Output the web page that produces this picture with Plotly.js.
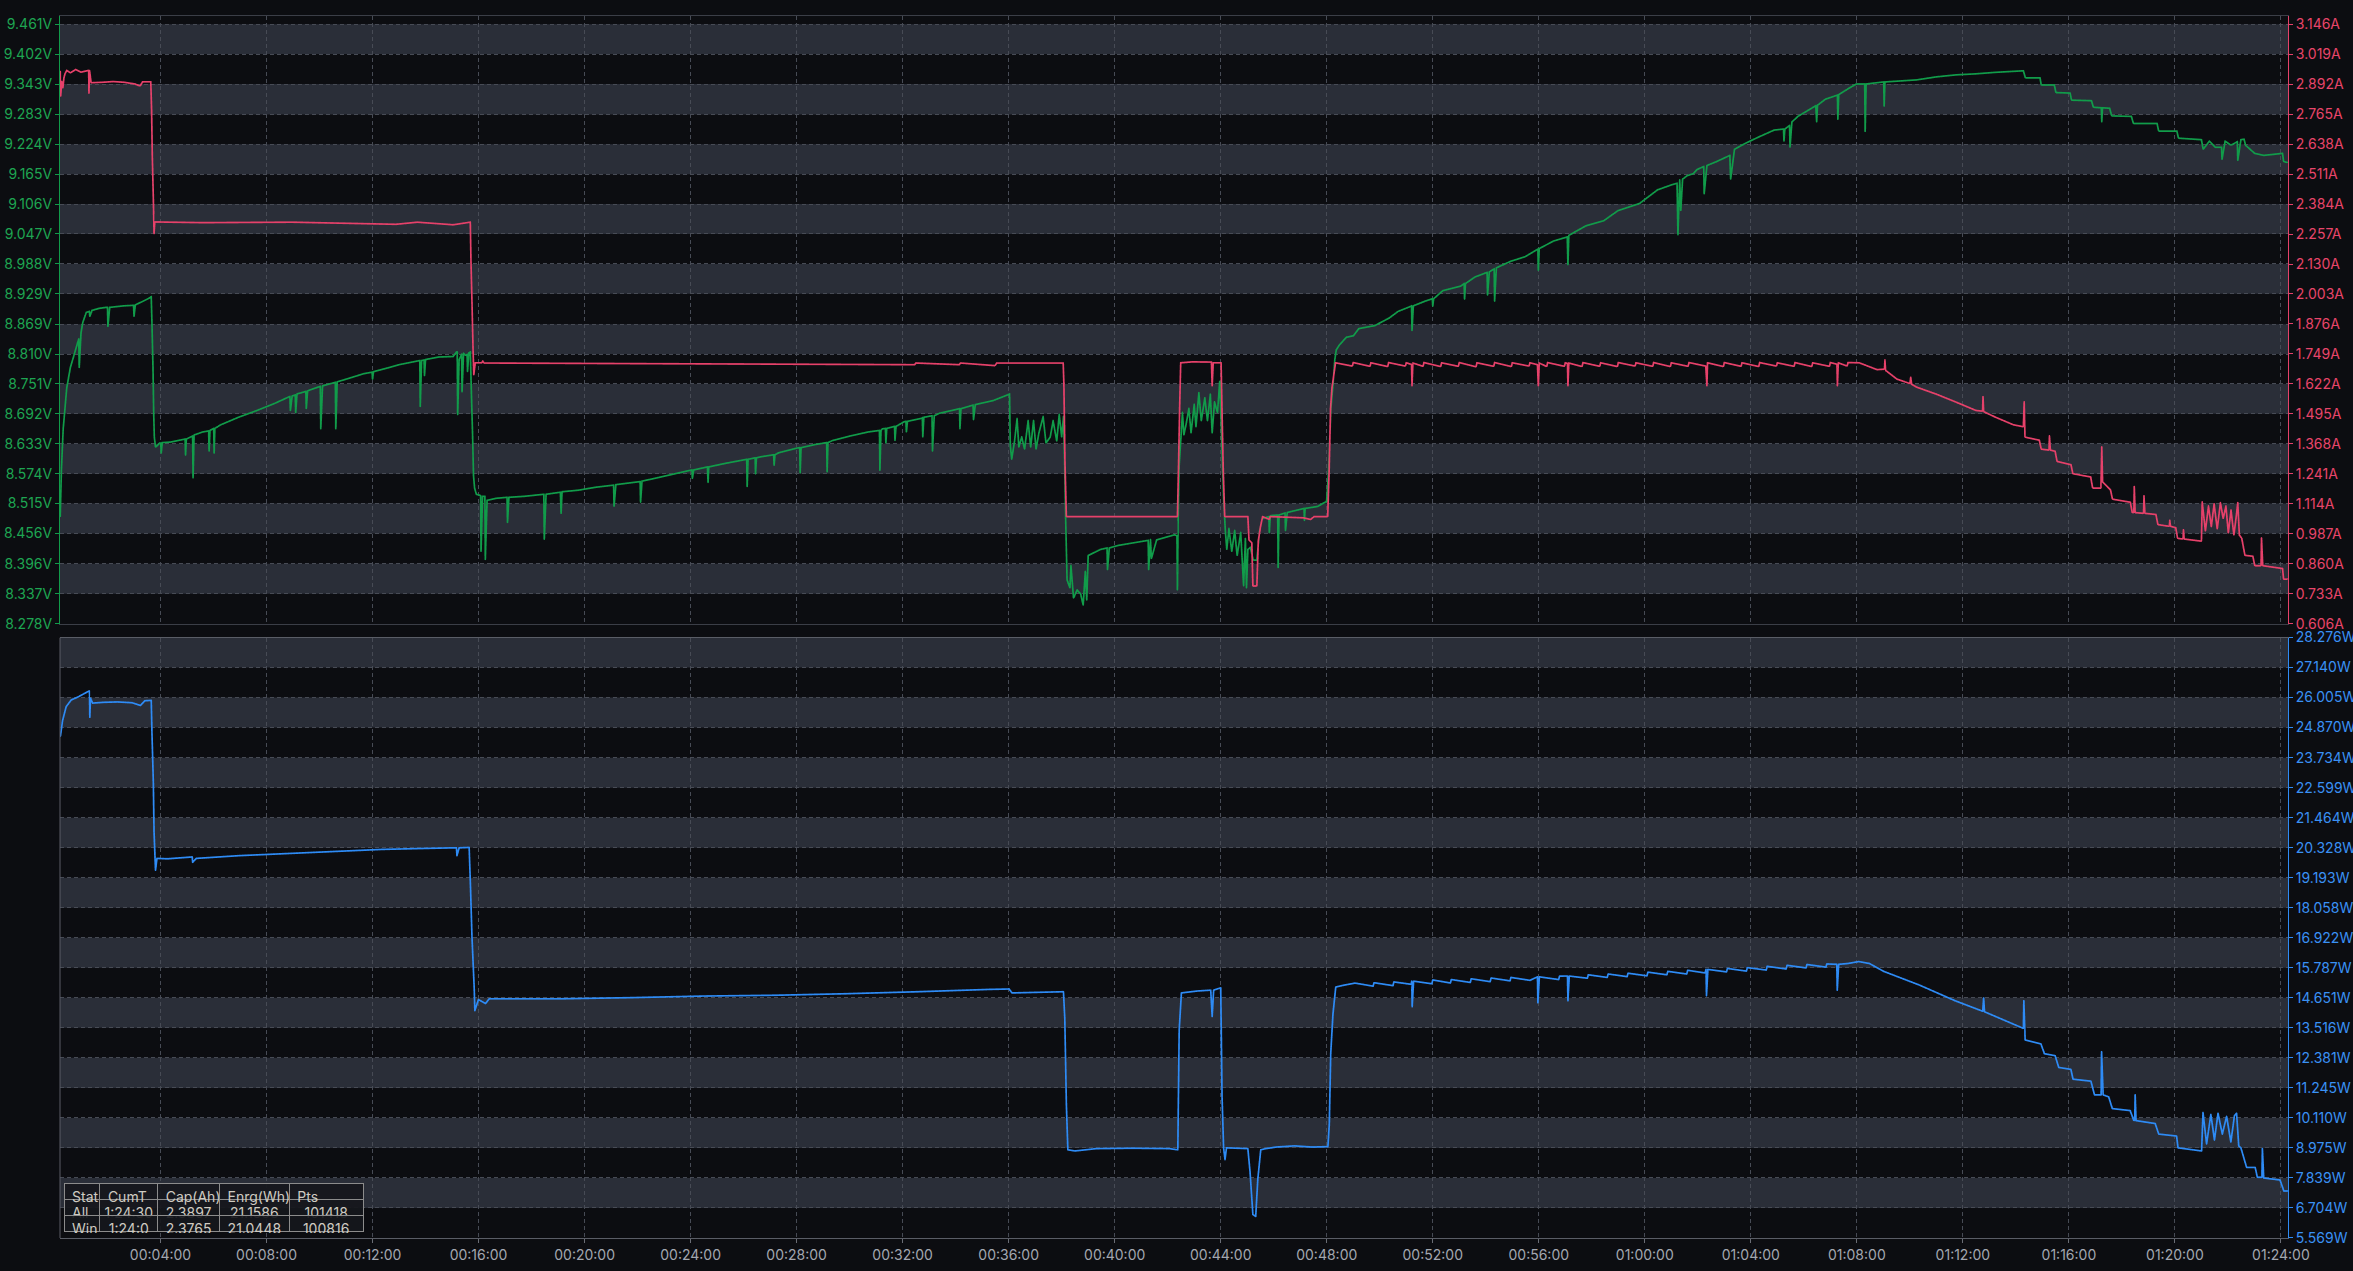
<!DOCTYPE html>
<html>
<head>
<meta charset="utf-8">
<script src="https://cdn.plot.ly/plotly-3.0.1.min.js"></script>
<style>
html,body{margin:0;padding:0;background:#0c0d11;overflow:hidden;}
#chart{width:2353px;height:1271px;}
</style>
</head>
<body>
<div id="chart"></div>
<script>
// ---------- DATA: [time in seconds, value] ----------
const voltageSeries = [
[13,8.490],[15.7,8.582],[19.7,8.663],[27.8,8.744],[35.9,8.784],[44,8.808],[52,8.832],[55,8.840],[56,8.784],[60,8.852],[64,8.873],[72,8.893],[79,8.895],[80,8.885],[85,8.897],[101,8.901],[117,8.903],[120,8.903],[121,8.865],[125,8.903],[157,8.906],[179,8.907],[180,8.885],[183,8.908],[198,8.914],[214,8.921],[219,8.924],[220.6,8.873],[223,8.784],[224.6,8.695],[226,8.647],[228.7,8.627],[238,8.635],[240.6,8.635],[241.6,8.615],[244,8.636],[262.7,8.637],[295.7,8.643],[296.7,8.611],[298.5,8.643],[312.7,8.649],[313.7,8.566],[316,8.651],[335.5,8.657],[349,8.659],[350,8.619],[352,8.660],[360.4,8.664],[361.4,8.615],[363,8.664],[376,8.671],[416.5,8.686],[457,8.699],[497.5,8.713],[530,8.726],[533,8.727],[534,8.699],[538,8.728],[545,8.730],[546,8.695],[549,8.732],[569,8.737],[570,8.703],[573,8.738],[578.5,8.740],[601.8,8.747],[602.8,8.663],[606.8,8.748],[635.8,8.755],[636.8,8.663],[640,8.756],[659.4,8.761],[700,8.772],[719,8.775],[720,8.761],[722,8.776],[756.6,8.784],[781,8.790],[821.4,8.797],[827,8.798],[828,8.707],[831,8.798],[836.6,8.799],[837.6,8.768],[840,8.800],[870,8.805],[902.4,8.806],[910,8.815],[911.7,8.815],[912.7,8.691],[916,8.800],[921.6,8.810],[922.6,8.736],[926,8.812],[930.7,8.808],[934,8.810],[935,8.776],[938,8.813],[941.3,8.815],[943.7,8.736],[946.2,8.659],[948.6,8.570],[951,8.546],[955,8.534],[963,8.532],[964.6,8.531],[965.6,8.421],[969,8.530],[974.3,8.530],[975.3,8.405],[979.3,8.522],[999.5,8.526],[1024.5,8.528],[1025.5,8.478],[1028.7,8.528],[1064,8.530],[1107.8,8.534],[1108.8,8.445],[1112.8,8.534],[1145.2,8.538],[1146.8,8.496],[1149,8.539],[1185.7,8.542],[1226,8.548],[1265.7,8.552],[1266.7,8.510],[1270.8,8.553],[1316,8.558],[1325.7,8.559],[1326.7,8.518],[1330,8.560],[1356.7,8.565],[1397,8.573],[1437.6,8.581],[1443,8.582],[1444,8.565],[1447,8.582],[1478,8.588],[1479.5,8.557],[1481,8.588],[1518.5,8.595],[1567,8.603],[1568,8.549],[1570,8.603],[1586,8.606],[1587,8.574],[1589,8.606],[1599,8.608],[1628,8.612],[1629,8.591],[1631,8.612],[1639.6,8.616],[1680,8.625],[1687,8.626],[1688,8.576],[1690,8.626],[1720.8,8.632],[1748,8.636],[1749,8.578],[1751,8.636],[1761,8.640],[1801,8.649],[1842,8.657],[1867.5,8.660],[1868.5,8.581],[1871,8.660],[1874,8.663],[1881,8.664],[1882,8.635],[1884,8.664],[1901.6,8.668],[1902.6,8.640],[1905,8.668],[1923,8.677],[1927.4,8.678],[1928.4,8.657],[1931,8.678],[1963,8.684],[1964.6,8.685],[1965.6,8.647],[1968,8.686],[1986.5,8.689],[1987.5,8.619],[1991.5,8.689],[2003.6,8.694],[2044,8.702],[2048.7,8.703],[2049.7,8.663],[2052,8.703],[2079.4,8.710],[2080.4,8.681],[2084.4,8.711],[2125,8.719],[2157,8.730],[2162,8.732],[2163.6,8.631],[2166.8,8.603],[2173.3,8.639],[2179,8.683],[2183,8.627],[2189.5,8.647],[2196,8.623],[2204,8.679],[2209.8,8.627],[2216.3,8.679],[2222,8.623],[2228.4,8.655],[2238,8.687],[2244.5,8.635],[2254,8.647],[2260.6,8.679],[2268.8,8.639],[2274.4,8.691],[2280,8.647],[2284,8.687],[2286.6,8.599],[2289,8.486],[2292.2,8.365],[2298.7,8.349],[2301,8.393],[2306.8,8.329],[2315,8.345],[2323,8.337],[2328.6,8.315],[2333.5,8.381],[2336.7,8.325],[2340,8.413],[2367.6,8.425],[2382.7,8.428],[2383.7,8.385],[2387.8,8.428],[2408,8.433],[2448.5,8.439],[2475.8,8.443],[2476.8,8.385],[2481,8.444],[2483,8.407],[2495,8.444],[2535.5,8.454],[2541,8.452],[2542,8.345],[2543.6,8.482],[2546,8.591],[2550,8.647],[2553.4,8.695],[2556.6,8.651],[2561.4,8.671],[2568,8.703],[2572.8,8.655],[2580,8.711],[2584,8.667],[2590.5,8.734],[2596,8.679],[2604,8.724],[2610,8.679],[2616.5,8.731],[2620.6,8.655],[2626,8.716],[2632.7,8.695],[2637.6,8.756],[2640,8.703],[2642.4,8.635],[2646.5,8.526],[2650.5,8.462],[2653.8,8.425],[2658.6,8.466],[2665,8.421],[2671.6,8.462],[2677.2,8.413],[2685.3,8.458],[2691.8,8.353],[2695.8,8.446],[2698.3,8.349],[2701.5,8.425],[2707,8.429],[2713.7,8.404],[2721.8,8.404],[2728,8.462],[2734,8.486],[2749,8.490],[2750,8.458],[2752,8.490],[2754,8.492],[2769,8.493],[2770,8.389],[2772,8.493],[2785.6,8.497],[2786.6,8.462],[2790.6,8.498],[2819,8.504],[2828.5,8.506],[2829.5,8.482],[2831,8.506],[2859.5,8.510],[2879.7,8.520],[2883.7,8.574],[2886,8.623],[2889.4,8.703],[2894.3,8.752],[2898.3,8.800],[2901.6,8.819],[2908,8.828],[2924.4,8.844],[2940.5,8.847],[2952.6,8.861],[2989,8.867],[3021.5,8.882],[3041.6,8.895],[3070,8.905],[3072,8.906],[3073,8.857],[3076,8.906],[3102,8.915],[3119,8.920],[3120,8.905],[3122,8.920],[3143,8.936],[3183.5,8.945],[3191,8.950],[3192,8.919],[3194,8.950],[3215.7,8.963],[3243,8.972],[3244,8.927],[3248,8.973],[3259,8.979],[3260,8.915],[3264,8.981],[3296.6,8.994],[3329,9.003],[3358,9.018],[3359,8.976],[3361,9.019],[3393.6,9.034],[3424.5,9.042],[3426,8.987],[3428,9.045],[3438,9.050],[3466.8,9.064],[3507,9.074],[3539.4,9.094],[3588,9.108],[3628.8,9.135],[3661,9.145],[3673,9.148],[3675,9.046],[3679,9.154],[3681.5,9.094],[3685.5,9.156],[3696,9.163],[3710,9.167],[3718,9.175],[3733.4,9.181],[3734.4,9.127],[3740.6,9.183],[3763,9.191],[3792.5,9.203],[3794.3,9.156],[3803,9.215],[3825.7,9.226],[3857,9.239],[3892.8,9.253],[3914,9.255],[3915,9.231],[3917,9.255],[3927.7,9.262],[3928.7,9.219],[3933,9.269],[3946.6,9.280],[3987,9.301],[3989,9.269],[3991,9.302],[4009,9.314],[4036,9.322],[4037,9.274],[4039,9.323],[4063,9.336],[4079,9.344],[4097.8,9.344],[4098.8,9.250],[4101,9.344],[4140.8,9.348],[4141.8,9.300],[4143.6,9.348],[4215,9.352],[4260,9.358],[4305,9.362],[4349.5,9.364],[4394.3,9.367],[4457,9.370],[4461.5,9.356],[4494.7,9.356],[4497.4,9.342],[4527,9.342],[4530.6,9.327],[4562.7,9.326],[4566,9.312],[4611,9.311],[4615.5,9.298],[4633.4,9.297],[4634.4,9.269],[4636,9.297],[4652.3,9.296],[4656.8,9.281],[4701.5,9.280],[4706,9.266],[4759.6,9.266],[4763.2,9.251],[4804.4,9.251],[4808,9.237],[4860,9.234],[4864,9.215],[4878,9.231],[4891.4,9.219],[4905.6,9.219],[4906.6,9.195],[4913.7,9.231],[4927,9.223],[4941.3,9.230],[4942.3,9.193],[4949.4,9.234],[4956.5,9.235],[4960,9.223],[4980.6,9.207],[5001.3,9.203],[5043.6,9.207],[5046,9.191],[5054.2,9.189]
];

const currentSeries = [
[13,2.947],[14,2.843],[16.5,2.904],[19,2.878],[21.4,2.921],[23.8,2.938],[27.8,2.952],[36,2.942],[48,2.956],[60,2.945],[76.4,2.952],[77.5,2.952],[78,2.855],[79.5,2.950],[83,2.900],[108.8,2.902],[133,2.905],[157.4,2.902],[181.7,2.895],[193.8,2.886],[199.5,2.904],[218,2.904],[219.8,2.786],[221.4,2.592],[223.8,2.407],[225.4,2.260],[227,2.310],[335.5,2.307],[538,2.309],[772.8,2.300],[821.4,2.309],[902.4,2.298],[941.3,2.309],[942.8,2.143],[945.2,1.961],[947.6,1.762],[949.2,1.662],[952.5,1.713],[967,1.713],[969.6,1.720],[972,1.712],[1947,1.705],[1950,1.712],[2048,1.705],[2051,1.712],[2129,1.701],[2133,1.712],[2283.4,1.712],[2285,1.623],[2287.4,1.295],[2290.6,1.061],[2542,1.061],[2544.5,1.277],[2547,1.520],[2549.4,1.713],[2576,1.717],[2619,1.716],[2620.6,1.615],[2623,1.713],[2640.8,1.713],[2643,1.502],[2645.7,1.260],[2649,1.061],[2701.5,1.061],[2704,0.962],[2710.4,0.950],[2712.8,0.767],[2721.8,0.767],[2725,0.957],[2730,1.018],[2734.8,1.061],[2750,1.049],[2752,1.061],[2827,1.056],[2843.4,1.049],[2851.4,1.061],[2882.2,1.061],[2885.5,1.260],[2888.6,1.520],[2891.8,1.606],[2899.9,1.713],
[2938,1.699],[2940,1.714],[2978,1.698],[2980,1.713],[3018,1.697],[3020,1.714],[3058,1.699],[3060,1.713],[3072,1.706],[3073,1.615],[3075,1.712],[3098,1.698],[3100,1.714],[3138,1.697],[3140,1.713],[3178,1.698],[3180,1.714],[3218,1.696],[3220,1.713],[3258,1.698],[3260,1.714],[3298,1.697],[3300,1.713],[3338,1.699],[3340,1.713],[3357,1.705],[3359,1.615],[3361,1.712],[3378,1.697],[3380,1.714],[3418,1.698],[3420,1.713],[3425,1.710],[3426,1.615],[3428,1.712],[3458,1.697],[3460,1.714],[3498,1.698],[3500,1.713],[3538,1.697],[3540,1.714],[3578,1.699],[3580,1.713],[3618,1.698],[3620,1.714],[3658,1.697],[3660,1.713],[3698,1.698],[3700,1.714],[3738,1.699],[3740.6,1.615],[3742,1.713],[3778,1.697],[3780,1.714],[3818,1.698],[3820,1.713],[3858,1.697],[3860,1.714],[3898,1.699],[3900,1.713],[3938,1.698],[3940,1.714],[3978,1.697],[3980,1.713],[4018,1.698],[4020,1.714],[4035,1.707],[4036,1.615],[4038,1.713],[4058,1.699],[4060,1.714],[4085.5,1.713],
[4125.7,1.684],[4142.6,1.686],[4143.6,1.724],[4145,1.681],[4170.6,1.644],[4200,1.625],[4202,1.650],[4204,1.622],[4215,1.610],[4260,1.580],[4305,1.546],[4349.5,1.511],[4364.6,1.508],[4365.6,1.568],[4367,1.506],[4394.3,1.482],[4434.6,1.450],[4457,1.442],[4458.8,1.546],[4460.6,1.398],[4493,1.385],[4497.4,1.347],[4515,1.343],[4516,1.402],[4518,1.343],[4528.8,1.338],[4533.3,1.295],[4564.7,1.281],[4569,1.243],[4609.3,1.229],[4613.8,1.182],[4632.5,1.182],[4634.4,1.355],[4636.3,1.208],[4654.2,1.174],[4658.7,1.135],[4699,1.122],[4703.5,1.078],[4707,1.078],[4708,1.187],[4710,1.078],[4729,1.075],[4730,1.148],[4732,1.075],[4757,1.070],[4761.5,1.027],[4787.4,1.020],[4788.4,1.044],[4790,1.020],[4801.9,1.014],[4806,0.969],[4818.4,0.966],[4819.4,1.004],[4821,0.966],[4860,0.957],[4861.8,1.122],[4869,1.000],[4876,1.105],[4882.4,1.018],[4888.7,1.114],[4895.8,1.009],[4903,1.119],[4909.3,1.053],[4915.5,1.105],[4920.9,0.992],[4927,1.088],[4933.5,0.983],[4938.8,1.061],[4942.3,1.119],[4945.9,0.983],[4951.3,0.969],[4958.5,0.897],[4976.4,0.893],[4980.9,0.853],[4995,0.853],[4996,0.969],[4998.8,0.853],[5043.6,0.841],[5046,0.796],[5054.2,0.796]
];

const powerSeries = [
[13.5,24.565],[18.4,25.159],[26.5,25.679],[37.9,25.931],[54,26.050],[70,26.198],[78.3,26.272],[79.3,26.270],[80,25.278],[81.5,26.000],[86.4,25.812],[110.6,25.842],[143,25.857],[175.3,25.827],[194.7,25.723],[204.4,25.901],[219,25.916],[220.6,24.714],[223.8,22.784],[225.4,20.929],[228.7,19.490],[232,19.935],[256,19.920],[311.8,19.990],[312.8,19.786],[321,19.935],[418,20.039],[498.8,20.098],[579.6,20.157],[660.5,20.217],[741.4,20.276],[822,20.306],[903,20.335],[910,20.335],[911,20.039],[916,20.335],[938.7,20.350],[941.9,18.777],[945,16.996],[950,15.067],[951.6,14.176],[959.7,14.592],[975.8,14.443],[984,14.621],[1145.6,14.621],[1307.4,14.666],[1469,14.725],[1630.8,14.755],[1792.5,14.814],[1954,14.889],[2116,14.977],[2161,14.992],[2167.6,14.844],[2284,14.889],[2287,13.879],[2289,12.098],[2290.6,10.614],[2294,8.907],[2310,8.863],[2358.5,8.951],[2439.4,8.966],[2523.6,8.951],[2542.9,8.907],[2546,13.434],[2551,14.844],[2588,14.918],[2617.4,14.948],[2620.6,13.953],[2624,14.948],[2640,15.037],[2643,10.911],[2646.5,8.981],[2649.7,8.536],[2653,8.981],[2701.4,8.951],[2706.3,8.091],[2712.8,6.458],[2719.2,6.384],[2724,7.794],[2730.6,8.907],[2742,8.951],[2766,9.011],[2806.6,9.055],[2847,9.011],[2882.6,9.026],[2885.8,9.872],[2889,12.543],[2894,14.028],[2900.4,15.067],[2919.8,15.141],
[2944,15.215],[2985,15.100],[2987,15.230],[3030,15.120],[3032,15.260],[3071,15.170],[3072.4,15.289],[3073.4,14.324],[3076.6,15.289],[3118,15.190],[3120,15.334],[3160,15.220],[3162,15.350],[3205,15.240],[3207,15.380],[3250,15.270],[3252,15.408],[3295,15.300],[3297,15.430],[3340,15.320],[3357,15.452],[3358,14.473],[3361.3,15.452],[3405,15.350],[3407,15.480],[3425,15.482],[3426,14.547],[3429,15.482],[3470,15.400],[3472,15.530],[3515,15.430],[3517,15.560],[3560,15.460],[3562,15.590],[3605,15.490],[3607,15.630],[3650,15.530],[3652,15.660],[3695,15.560],[3697,15.700],[3736.4,15.600],[3738.6,15.734],[3739.6,14.740],[3742.8,15.734],[3785,15.640],[3787,15.770],[3830,15.670],[3832,15.800],[3875,15.710],[3877,15.850],[3920,15.750],[3922,15.890],[3965,15.790],[3967,15.920],[4010,15.820],[4012,15.940],[4034.6,15.927],[4035.6,14.948],[4038.8,15.927],[4060,15.957],[4084.3,16.031],[4108.5,15.957],
[4140.8,15.660],[4221.6,15.141],[4302.5,14.547],[4365,14.150],[4367,14.650],[4369,14.130],[4383.4,14.028],[4456,13.508],[4457,13.508],[4458,14.547],[4461,13.063],[4496.6,12.914],[4504.7,12.543],[4528.9,12.469],[4537,12.024],[4564.5,11.950],[4569.4,11.579],[4609.8,11.505],[4618,10.985],[4633,10.985],[4634,12.618],[4637.5,10.985],[4650,10.911],[4658.3,10.466],[4698.7,10.391],[4706.8,10.020],[4709,10.020],[4710,10.985],[4712,10.010],[4755.3,9.901],[4763.4,9.501],[4803.8,9.427],[4807,8.981],[4860.4,8.863],[4863.6,10.317],[4871.7,9.130],[4881.4,10.243],[4889.5,9.278],[4897.6,10.288],[4907.3,9.501],[4917,10.169],[4926.7,9.204],[4934.8,10.200],[4939.6,10.288],[4944.5,9.055],[4949.4,8.981],[4962.3,8.239],[4981.7,8.239],[4986.6,7.868],[4997,7.868],[4998,8.951],[5001,7.839],[5038,7.764],[5046.5,7.348],[5054.6,7.348]
];

const voltTicks = [8.278,8.337,8.396,8.456,8.515,8.574,8.633,8.692,8.751,8.810,8.869,8.929,8.988,9.047,9.106,9.165,9.224,9.283,9.343,9.402,9.461];
const ampTicks  = [0.606,0.733,0.860,0.987,1.114,1.241,1.368,1.495,1.622,1.749,1.876,2.003,2.130,2.257,2.384,2.511,2.638,2.765,2.892,3.019,3.146];
const wattTicks = [5.569,6.704,7.839,8.975,10.110,11.245,12.381,13.516,14.651,15.787,16.922,18.058,19.193,20.328,21.464,22.599,23.734,24.870,26.005,27.140,28.276];
const timeTicks = [240,480,720,960,1200,1440,1680,1920,2160,2400,2640,2880,3120,3360,3600,3840,4080,4320,4560,4800,5040];

const statHeader = ['Stat','CumT','Cap(Ah)','Enrg(Wh)','Pts'];
const statRows = ['All','Win'];
const statCumT = ['1:24:30','1:24:0'];
const statCap  = ['2.3897','2.3765'];
const statEnrg = ['21.1586','21.0448'];
const statPts  = ['101418','100816'];

// ---------- STYLE ----------
const BG = '#0c0d11', BAND = '#2a2e38', GRID = '#474b55';
const GREEN = '#119c4a', RED = '#e6416a', BLUE = '#2e8bf5';
const GREEN_T = '#1ea552', RED_T = '#e8456a', BLUE_T = '#3a91f5', XT = '#a3a7b0';
const FONT = 'Inter, "Noto Sans", sans-serif';
const xRange = [12.5, 5056];

function hms(s){
  const h = Math.floor(s/3600), m = Math.floor((s%3600)/60), sec = Math.round(s%60);
  const p = n => String(n).padStart(2,'0');
  return p(h)+':'+p(m)+':'+p(sec);
}
const xs = a => a.map(p => p[0]);
const ys = a => a.map(p => p[1]);

const shapes = [];
for (let i = 1; i < voltTicks.length - 1; i += 2) {
  shapes.push({type:'rect', layer:'below', xref:'x', yref:'y', x0:xRange[0], x1:xRange[1],
               y0:voltTicks[i], y1:voltTicks[i+1], fillcolor:BAND, line:{width:0}});
}
for (let i = 1; i < wattTicks.length - 1; i += 2) {
  shapes.push({type:'rect', layer:'below', xref:'x2', yref:'y3', x0:xRange[0], x1:xRange[1],
               y0:wattTicks[i], y1:wattTicks[i+1], fillcolor:BAND, line:{width:0}});
}
shapes.push({type:'line', layer:'above', xref:'paper', yref:'y3', x0:0, x1:0,
             y0:wattTicks[0], y1:wattTicks[wattTicks.length-1], line:{color:'#5a5d66', width:1}});

const traces = [
  {type:'scattergl', mode:'lines', x:xs(voltageSeries), y:ys(voltageSeries), xaxis:'x', yaxis:'y',
   line:{color:GREEN, width:1.7}, hoverinfo:'skip', name:'V'},
  {type:'scattergl', mode:'lines', x:xs(currentSeries), y:ys(currentSeries), xaxis:'x', yaxis:'y2',
   line:{color:RED, width:1.7}, hoverinfo:'skip', name:'A'},
  {type:'scattergl', mode:'lines', x:xs(powerSeries), y:ys(powerSeries), xaxis:'x2', yaxis:'y3',
   line:{color:BLUE, width:1.7}, hoverinfo:'skip', name:'W'},
  {type:'table', domain:{x:[0.0018,0.1364], y:[0.0033,0.0442]},
   columnwidth:[36,58,62,70,74],
   header:{values:statHeader, align:'left', height:16,
           fill:{color:'rgba(22,23,28,0.92)'}, line:{color:'#8c8c8c', width:1},
           font:{family:FONT, size:14, color:'#cfcbc2'}},
   cells:{values:[statRows,statCumT,statCap,statEnrg,statPts],
          align:['left','center','center','center','center'], height:16,
          fill:{color:'rgba(22,23,28,0.92)'}, line:{color:'#8c8c8c', width:1},
          font:{family:FONT, size:14, color:'#cfcbc2'}}}
];

const commonY = {tickmode:'array', ticks:'outside', ticklen:4, tickwidth:1,
                 showline:true, linewidth:1, zeroline:false, fixedrange:true};

const layout = {
  width:2353, height:1271,
  margin:{l:60, r:65, t:16, b:33, pad:0},
  paper_bgcolor:BG, plot_bgcolor:BG,
  showlegend:false,
  shapes:shapes,
  xaxis:{domain:[0,1], anchor:'y', range:xRange, tickmode:'array', tickvals:timeTicks,
         showticklabels:false, ticks:'', showgrid:true, gridcolor:GRID, griddash:'4px,3px', gridwidth:1,
         showline:true, mirror:true, linecolor:'#3b3e47', linewidth:1, zeroline:false},
  xaxis2:{domain:[0,1], anchor:'y3', matches:'x', range:xRange, tickmode:'array', tickvals:timeTicks,
          ticktext:timeTicks.map(hms), ticks:'outside', ticklen:4, tickcolor:'#6a6d75',
          tickfont:{family:FONT, size:14, color:XT},
          showgrid:true, gridcolor:GRID, griddash:'4px,3px', gridwidth:1,
          showline:true, mirror:true, linecolor:'#5a5d66', linewidth:1, zeroline:false},
  yaxis:Object.assign({}, commonY, {domain:[0.5027,1], anchor:'x', side:'left',
         range:[8.2779, 9.4772], tickvals:voltTicks, ticktext:voltTicks.map(v=>v.toFixed(3)+'V'),
         tickcolor:GREEN, linecolor:GREEN, tickfont:{family:FONT, size:14, color:GREEN_T},
         showgrid:true, gridcolor:GRID, griddash:'4px,3px', gridwidth:1}),
  yaxis2:Object.assign({}, commonY, {overlaying:'y', anchor:'x', side:'right',
         range:[0.6059, 3.1808], tickvals:ampTicks, ticktext:ampTicks.map(v=>v.toFixed(3)+'A'),
         tickcolor:RED, linecolor:RED, tickfont:{family:FONT, size:14, color:RED_T}, showgrid:false}),
  yaxis3:Object.assign({}, commonY, {domain:[0,0.4914], anchor:'x2', side:'right',
         range:[5.5685, 28.2765], tickvals:wattTicks, ticktext:wattTicks.map(v=>v.toFixed(3)+'W'),
         tickcolor:BLUE, linecolor:BLUE, tickfont:{family:FONT, size:14, color:BLUE_T},
         showgrid:true, gridcolor:GRID, griddash:'4px,3px', gridwidth:1})
};

Plotly.newPlot('chart', traces, layout, {displayModeBar:false, staticPlot:true});
</script>
</body>
</html>
